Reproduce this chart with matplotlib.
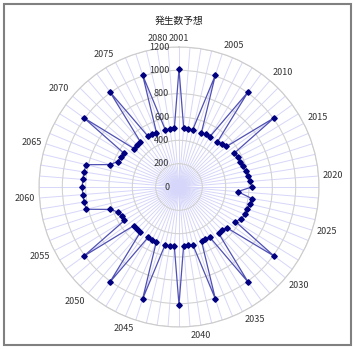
import numpy as np
import matplotlib
matplotlib.use('Agg')
import matplotlib.pyplot as plt
from matplotlib.patches import Rectangle

plt.rcParams['font.family'] = ['Noto Sans CJK JP', 'DejaVu Sans']

# ------------------------------
# Data
# ------------------------------
title = "発生数予想"
years = list(range(2001, 2081))
counts = [
    1010, 509, 503, 505, 1010, 500, 506, 505, 1010, 502,
    523, 535, 1010, 556, 566, 569, 578, 588, 602, 613,
    623, 505, 632, 624, 617, 615, 600, 567, 1010, 536,
    525, 523, 1010, 503, 499, 505, 1010, 509, 503, 504,
    1010, 511, 510, 508, 1010, 506, 510, 505, 1010, 512,
    509, 511, 1010, 548, 552, 563, 621, 818, 824, 828,
    829, 828, 824, 820, 621, 570, 557, 553, 1010, 506,
    509, 510, 1010, 513, 506, 504, 1010, 505, 503, 507,
]
labeled_years = [2001] + list(range(2005, 2081, 5))
r_ticks = [0, 200, 400, 600, 800, 1000, 1200]

# ------------------------------
# Figure and polar axes
# ------------------------------
W, H = 355, 349
fig = plt.figure(figsize=(W / 100, H / 100), dpi=100)
cx, cy, rad = 179, 187, 140
ax = fig.add_axes([(cx - rad) / W, (H - cy - rad) / H, 2 * rad / W, 2 * rad / H],
                  projection='polar')
ax.set_theta_zero_location('N')
ax.set_theta_direction(-1)

n = len(years)
angles = np.arange(n) * 2 * np.pi / n

ax.set_xticks(angles)
ax.set_xticklabels([])
ax.set_yticks(r_ticks)
ax.set_yticklabels([])
ax.set_ylim(0, 1200)
ax.xaxis.grid(True, color='#d6d6fa', lw=0.7)
ax.yaxis.grid(True, color='#d2d2d2', lw=0.8)
ax.spines['polar'].set_color('#cccccc')
ax.spines['polar'].set_linewidth(0.8)
ax.tick_params(length=0)

# series (closed loop)
th = np.append(angles, angles[0])
vals = np.append(counts, counts[0])
ax.plot(th, vals, color='#5050b4', lw=0.9, zorder=3)
ax.plot(angles, counts, ls='none', marker='D', ms=2.8, color='#000080', zorder=4)

# radial value labels
for v in r_ticks:
    ax.annotate(str(v), xy=(0, v), xytext=(-7, 0), textcoords='offset points',
                ha='right', va='center', fontsize=6.5, color='#333333')

# category labels
for yr in labeled_years:
    t = angles[years.index(yr)]
    s, c = np.sin(t), np.cos(t)
    ha = 'left' if s > 0.05 else ('right' if s < -0.05 else 'center')
    va = 'bottom' if c > 0.35 else ('top' if c < -0.35 else 'center')
    ax.annotate(str(yr), xy=(t, 1200), xytext=(3 * s, 3 * c),
                textcoords='offset points', ha=ha, va=va,
                fontsize=6.5, color='#333333', annotation_clip=False)

fig.text(cx / W, 1 - 21 / H, title, ha='center', va='center', fontsize=7, color='#222222')

# outer frame
fig.patches.append(Rectangle((4 / W, 4 / H), 347 / W, 341 / H, transform=fig.transFigure,
                             fill=False, edgecolor='#808080', lw=1.5))

fig.savefig('out.png', dpi=100)
